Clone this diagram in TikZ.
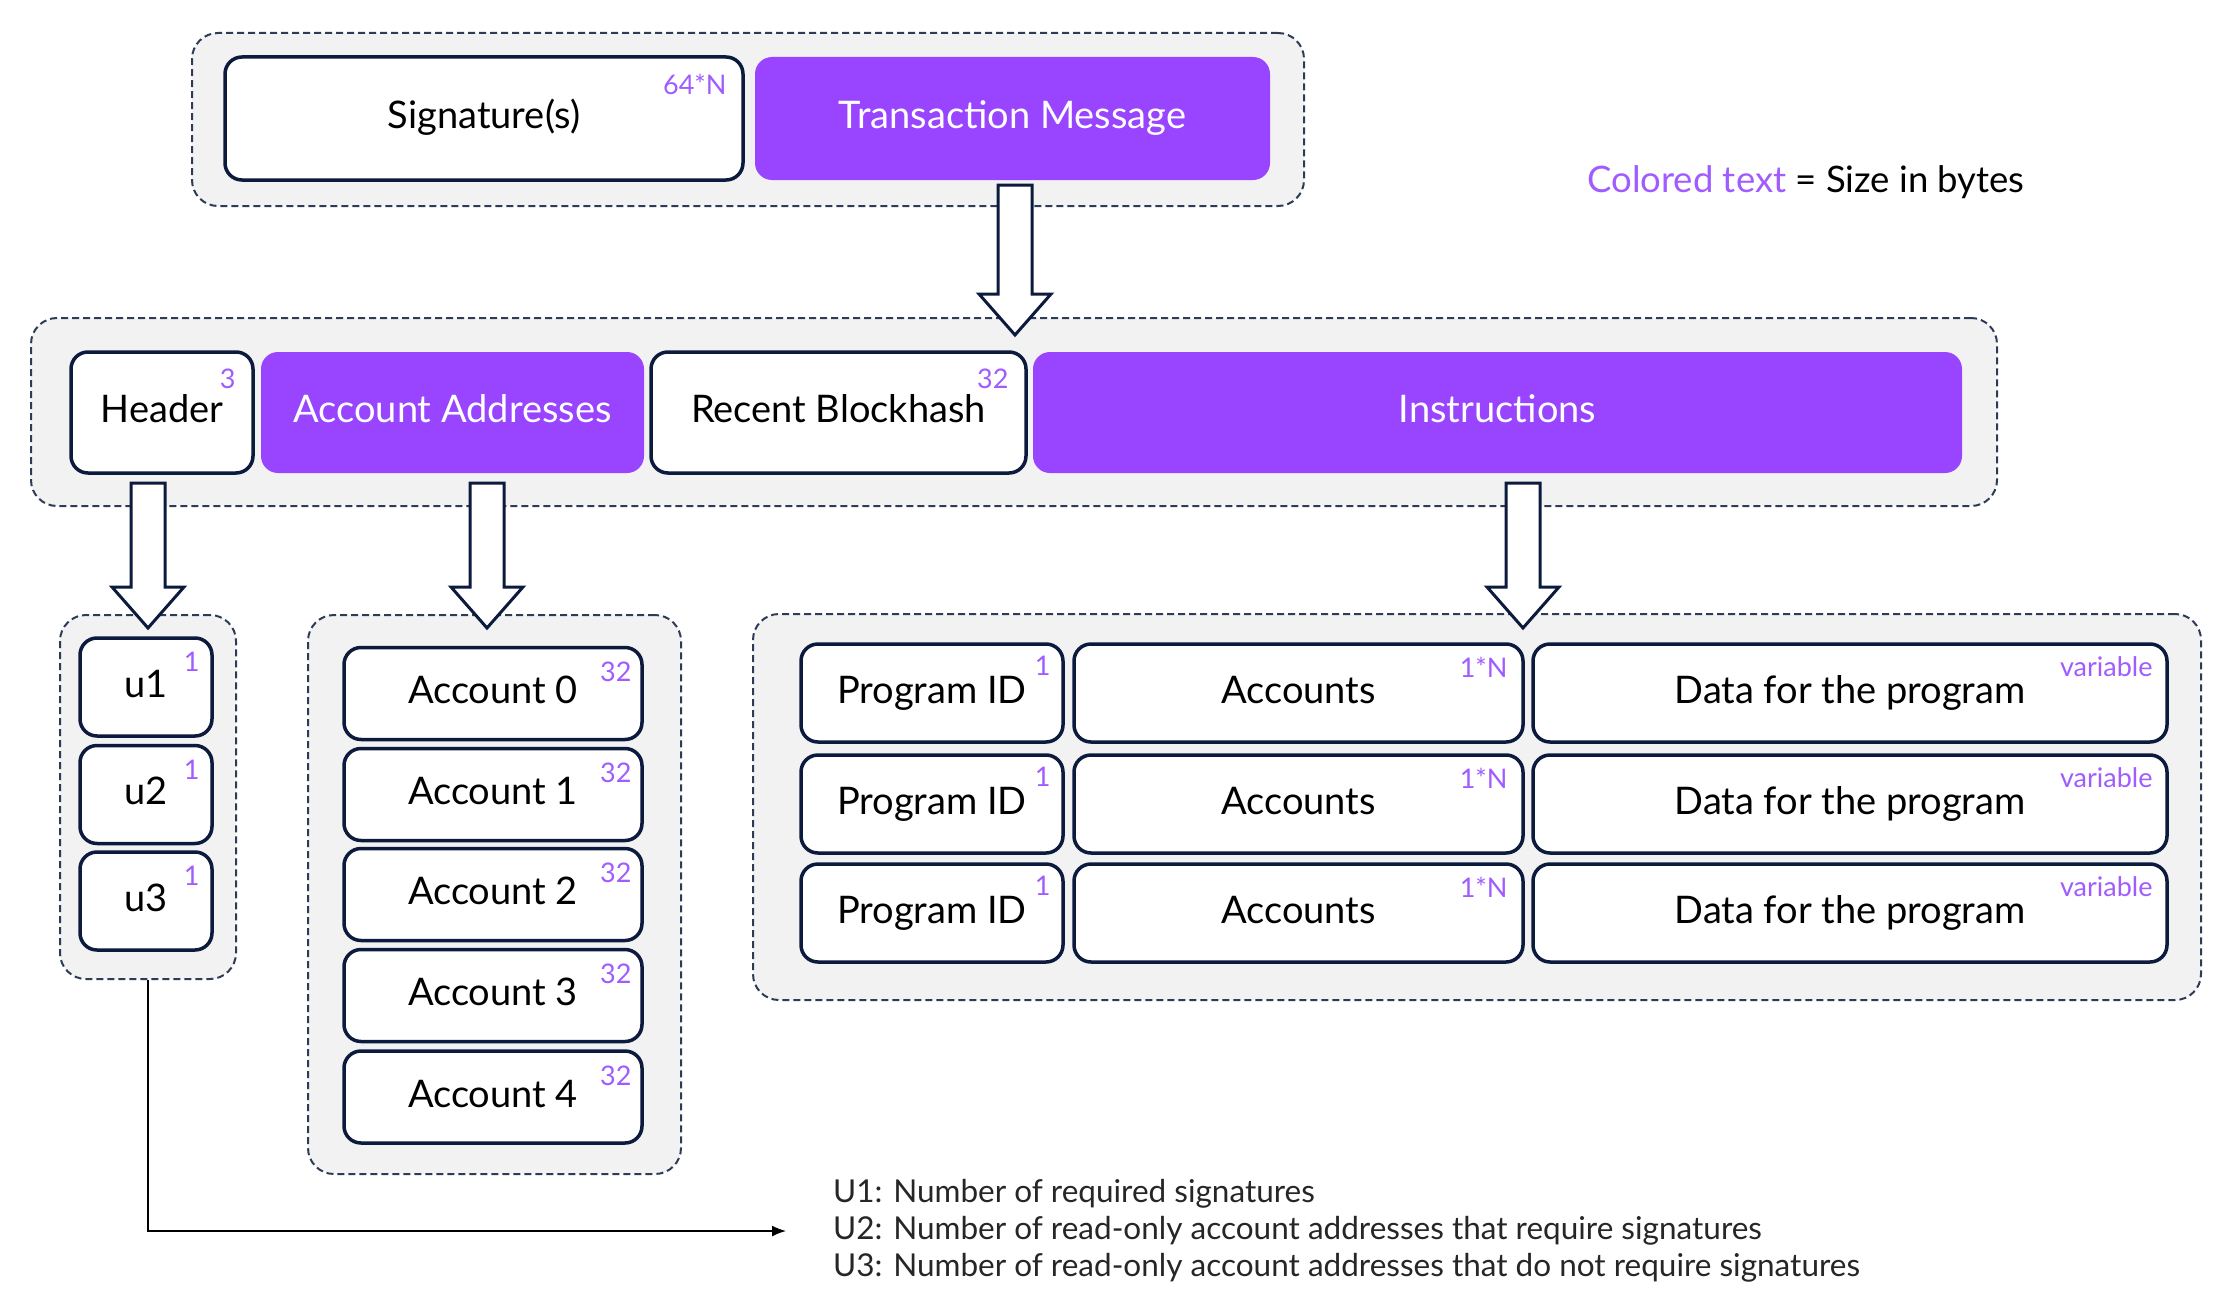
\documentclass[tikz,border=0pt]{standalone}
\usepackage{fontspec}
\setmainfont{Lato}
\usetikzlibrary{calc,arrows.meta}
\definecolor{navy}{HTML}{0B1A3D}
\definecolor{sol}{HTML}{9945FF}
\definecolor{lab}{HTML}{A05CFF}
\definecolor{grpfill}{HTML}{F2F2F2}
\definecolor{dashc}{HTML}{2E3B57}
\newcommand\mainfs{\fontsize{38}{42}\selectfont}
\newcommand\smallfs{\fontsize{27}{30}\selectfont}
\newcommand\legfs{\fontsize{31.5}{37}\selectfont}
\newcommand\keyfs{\fontsize{36.5}{40}\selectfont}
\newcommand\hollowarrow[2]{%
  \draw[navy, line width=3pt, fill=white, line join=miter] let \p1=(#1), \p2=(#2) in
  (\x1-17pt,\y1) -- (\x1+17pt,\y1) -- (\x1+17pt,\y2+41pt) -- (\x1+36pt,\y2+41pt)
  -- (\x1,\y2) -- (\x1-36pt,\y2+41pt) -- (\x1-17pt,\y2+41pt) -- cycle;}
\tikzset{
  box/.style={draw=navy, line width=3.5pt, rounded corners=17pt, fill=white, font=\mainfs,
    text=black, inner sep=0pt, text height=24pt, text depth=4pt},
  pbox/.style={fill=sol, rounded corners=17pt, text=white, font=\mainfs, inner sep=0pt,
    text height=24pt, text depth=4pt},
  grp/.style={draw=dashc, dash pattern=on 7pt off 4pt, line width=2pt, fill=grpfill,
    rounded corners=26pt, inner sep=0pt},
  sz/.style={text=lab, font=\smallfs, inner sep=0pt, anchor=north east},
}
\begin{document}
\begin{tikzpicture}[x=1pt,y=-1pt]
\useasboundingbox (0,0) rectangle (2228,1290);
% groups
\node[grp, minimum width=1112pt, minimum height=173pt] (g1) at (748,119.5) {};
\node[grp, minimum width=1966pt, minimum height=188pt] (g2) at (1014,412) {};
\node[grp, minimum width=176pt, minimum height=364pt] (gu) at (148,797) {};
\node[grp, minimum width=373pt, minimum height=559pt] (ga) at (494.5,894.5) {};
\node[grp, minimum width=1448pt, minimum height=386pt] (gi) at (1477,807) {};
% top row
\node[box, minimum width=518pt, minimum height=123pt] (sig) at (484,118.5) {Signature(s)};
\node[pbox, minimum width=515pt, minimum height=123pt] (tm) at (1012.5,118.5) {Transaction Message};
\node[sz] (sigsz) at ($(sig.north east)+(-18,19)$) {64*N};
% second row
\node[box, minimum width=182pt, minimum height=121pt] (hdr) at (162,412.5) {Header};
\node[pbox, minimum width=383pt, minimum height=121pt] (addr) at (452.5,412.5) {Account Addresses};
\node[box, minimum width=375pt, minimum height=121pt] (bh) at (838.5,412.5) {Recent Blockhash};
\node[pbox, minimum width=929pt, minimum height=121pt] (ins) at (1497.5,412.5) {Instructions};
\node[sz] (hdrsz) at ($(hdr.north east)+(-19,18)$) {3};
\node[sz] (bhsz) at ($(bh.north east)+(-19,18)$) {32};
% u column
\foreach \i/\y in {1/687,2/794.5,3/901}{
  \node[box, minimum width=132pt, minimum height=98pt] (u\i) at (146,\y) {u\i};
  \node[sz] (u\i sz) at ($(u\i.north east)+(-14,16)$) {1};
}
% accounts column
\foreach \i/\y in {0/693.5,1/794.5,2/894.5,3/995.5,4/1097}{
  \node[box, minimum width=298pt, minimum height=92pt] (a\i) at (493,\y) {Account \i};
  \node[sz] (a\i sz) at ($(a\i.north east)+(-12,16)$) {32};
}
% instructions rows
\foreach \i/\y in {1/693,2/804,3/913}{
  \node[box, minimum width=262pt, minimum height=98pt] (pid\i) at (932,\y) {Program ID};
  \node[box, minimum width=449pt, minimum height=98pt] (acc\i) at (1298.5,\y) {Accounts};
  \node[box, minimum width=634pt, minimum height=98pt] (dat\i) at (1850,\y) {Data for the program};
  \node[sz] (pid\i sz) at ($(pid\i.north east)+(-14,14)$) {1};
  \node[sz] (acc\i sz) at ($(acc\i.north east)+(-17,15)$) {1*N};
  \node[sz] (dat\i sz) at ($(dat\i.north east)+(-16,14)$) {variable};
}
% hollow arrows
\coordinate (s1) at ($(tm.south)+(2.5,5)$);
\coordinate (t1) at (1015,335);
\hollowarrow{s1}{t1}
\coordinate (s2) at (148,483);
\coordinate (t2) at (148,628);
\hollowarrow{s2}{t2}
\coordinate (s3) at (487,483);
\coordinate (t3) at (487,628);
\hollowarrow{s3}{t3}
\coordinate (s4) at (1523,483);
\coordinate (t4) at (1523,628);
\hollowarrow{s4}{t4}
% legend
\node[anchor=west, align=left, font=\legfs, inner sep=0pt, text=black!85] (legend) at (833,1231)
 {U1: Number of required signatures\\U2: Number of read-only account addresses that require signatures\\U3: Number of read-only account addresses that do not require signatures};
\draw[line width=1.5pt, -{Latex[length=14pt,width=11pt]}] (gu.south) |- ($(legend.west)+(-47,0)$);
\node[font=\keyfs, inner sep=0pt] (key) at (1806,182) {\textcolor{lab}{Colored text} = Size in bytes};
\end{tikzpicture}
\end{document}
